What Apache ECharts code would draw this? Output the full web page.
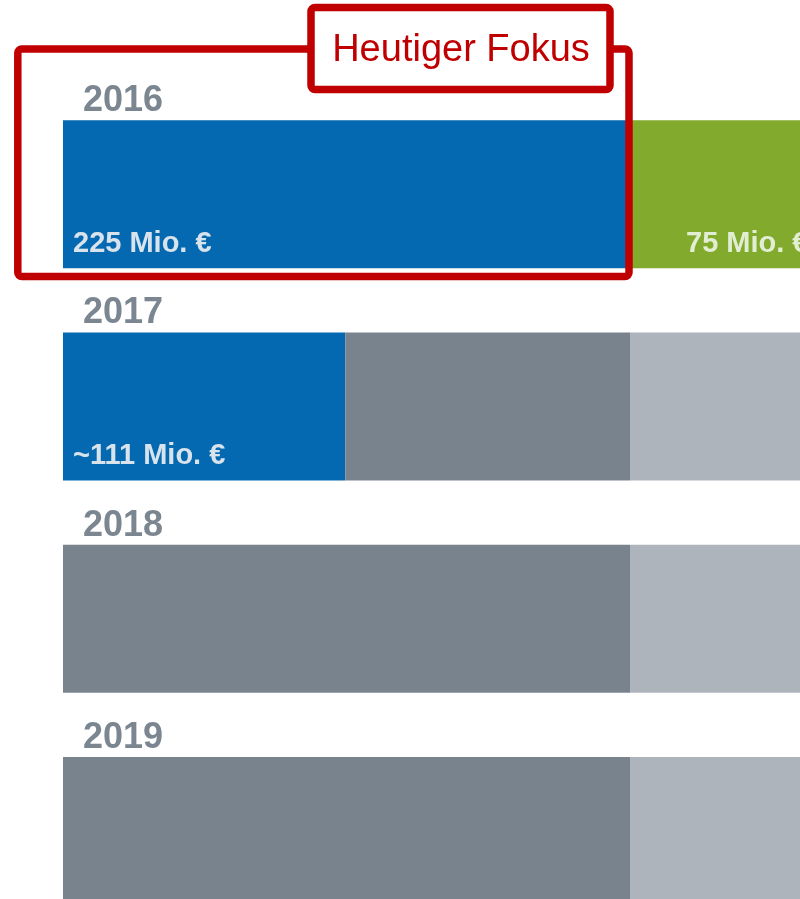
<!DOCTYPE html>
<html>
<head>
<meta charset="utf-8">
<title>Heutiger Fokus</title>
<script src="https://cdn.jsdelivr.net/npm/echarts@6/dist/echarts.min.js"></script>
<style>
  html, body { margin: 0; padding: 0; background: #fff; }
  #chart { width: 800px; height: 899px; }
</style>
</head>
<body>
<div id="chart"></div>
<script>
// Jahre (Kategorien)
const years = ['2016', '2017', '2018', '2019'];
// Werte in Mio. €
const blueValues = [225, 112, 0, 0];
const darkGrayValues = [0, 113, 225, 225];
const greenValues = [75, 0, 0, 0];
const lightGrayValues = [0, 75, 75, 75];
// Beschriftungen in den Balken
const blueLabels = ['225 Mio. €', '~111 Mio. €', '', ''];
const greenLabels = ['75 Mio. €', '', '', ''];

const font = '"Liberation Sans", Arial, sans-serif';
const red = '#c00000';

const myChart = echarts.init(document.getElementById('chart'), null, { renderer: 'canvas' });

function barLabel(list, color, offset) {
  return {
    show: true,
    position: 'insideBottomLeft',
    distance: 10,
    offset: offset,
    color: color,
    fontFamily: font,
    fontWeight: 'bold',
    fontSize: 29,
    formatter: (p) => list[p.dataIndex]
  };
}

const option = {
  animation: false,
  // Raster ragt rechts/unten über den Rand hinaus (Bild ist abgeschnitten)
  grid: { left: 63, top: 88, width: 756, height: 849, outerBoundsMode: 'none', containLabel: false },
  xAxis: {
    type: 'value',
    min: 0,
    max: 300,
    show: false
  },
  yAxis: {
    type: 'category',
    inverse: true,
    data: years,
    axisLine: { show: false },
    axisTick: { show: false },
    splitLine: { show: false },
    axisLabel: {
      show: true,
      interval: 0,
      hideOverlap: false,
      inside: true,
      margin: 20,
      formatter: '{y|{value}}',
      rich: {
        y: {
          color: '#7b8691',
          fontFamily: font,
          fontWeight: 'bold',
          fontSize: 36,
          padding: [0, 0, 186, 0] // Jahr über den Balken schieben
        }
      }
    }
  },
  series: [
    {
      name: 'blau', type: 'bar', stack: 'gesamt', barWidth: 148,
      itemStyle: { color: '#0469b1' },
      label: barLabel(blueLabels, '#d9e3ec', [0, 0]),
      data: blueValues
    },
    {
      name: 'dunkelgrau', type: 'bar', stack: 'gesamt', barWidth: 148,
      itemStyle: { color: '#78838e' },
      data: darkGrayValues
    },
    {
      name: 'grün', type: 'bar', stack: 'gesamt', barWidth: 148,
      itemStyle: { color: '#82aa2d' },
      label: barLabel(greenLabels, '#e2eed3', [46, 0]),
      data: greenValues
    },
    {
      name: 'hellgrau', type: 'bar', stack: 'gesamt', barWidth: 148,
      itemStyle: { color: '#adb4bc' },
      data: lightGrayValues
    }
  ],
  // roter Rahmen "Heutiger Fokus"
  graphic: [
    {
      type: 'rect', z: 100,
      shape: { x: 17.8, y: 49, width: 611.2, height: 227.5, r: 4 },
      style: { fill: 'none', stroke: red, lineWidth: 7.5 }
    },
    {
      type: 'rect', z: 101,
      shape: { x: 311, y: 7.5, width: 299, height: 82, r: 4 },
      style: { fill: '#fff', stroke: red, lineWidth: 7.5 }
    },
    {
      type: 'text', z: 102,
      x: 461, y: 51,
      style: {
        text: 'Heutiger Fokus',
        fill: red,
        font: '38px ' + font,
        align: 'center',
        verticalAlign: 'middle'
      }
    }
  ]
};

myChart.setOption(option);
</script>
</body>
</html>
